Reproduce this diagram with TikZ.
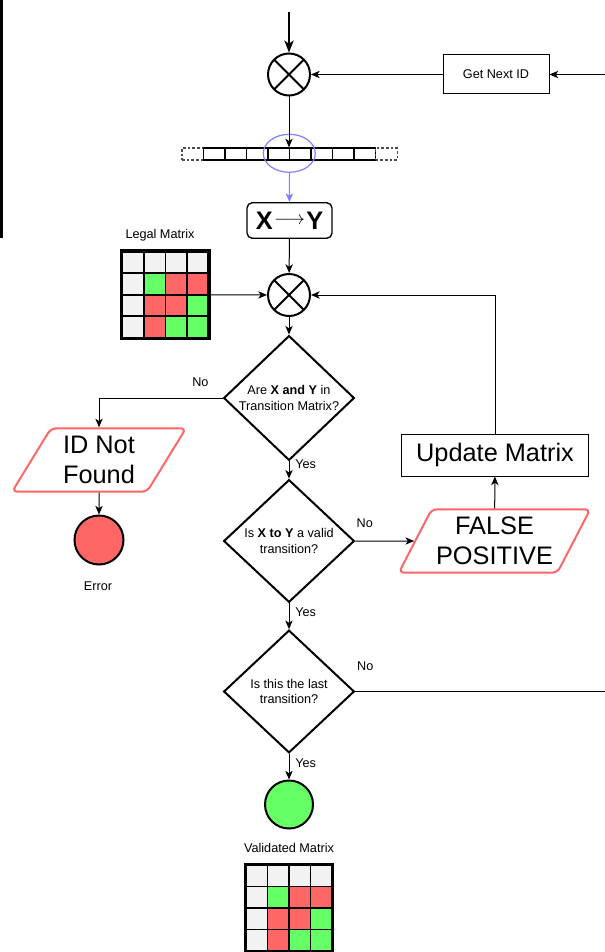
\documentclass[tikz,border=0pt]{standalone}
\usepackage{fontspec}
\setmainfont{Liberation Sans}
\usetikzlibrary{shapes.geometric,arrows.meta,matrix,calc}
\definecolor{cellgrey}{HTML}{F2F2F2}
\definecolor{cellgreen}{HTML}{66FF66}
\definecolor{cellred}{HTML}{FF6666}
\definecolor{winblue}{HTML}{7F7FFF}

\begin{document}
\begin{tikzpicture}[x=0.75pt,y=-0.75pt]
       \tikzstyle{small} = [font=\fontsize{9.5}{11.5}\selectfont];
       \tikzstyle{big} = [font=\fontsize{19}{22.5}\selectfont];
       \tikzstyle{arr} = [line width=0.75pt, -{Stealth[length=6.5pt,width=5.5pt,inset=1.8pt]}];
       \tikzstyle{xor} = [circle, draw, line width=1.5pt, minimum size=31.5pt, inner sep=0pt,
         path picture={\draw[line width=1.5pt]
           (path picture bounding box.north east) -- (path picture bounding box.south west)
           (path picture bounding box.north west) -- (path picture bounding box.south east);}];
       \tikzstyle{proc} = [rectangle, draw, line width=0.75pt];
       \tikzstyle{decision} = [diamond, draw, line width=1.5pt, minimum width=98pt, minimum height=92pt,
         inner sep=0pt, align=center, small];
       \tikzstyle{io} = [trapezium, trapezium left angle=60, trapezium right angle=120,
         trapezium stretches=true, draw=cellred, line width=1.5pt, rounded corners=4pt,
         align=center, big, minimum height=47.5pt, minimum width=130.5pt];
       \tikzstyle{stop} = [circle, draw, line width=1.5pt, inner sep=0pt];
       \tikzstyle{cell} = [rectangle, draw, line width=1.2pt, minimum size=16.1pt, inner sep=0pt];
       \tikzstyle{gy} = [cell, fill=cellgrey];
       \tikzstyle{gn} = [cell, fill=cellgreen];
       \tikzstyle{rd} = [cell, fill=cellred];
       \tikzstyle{grid} = [matrix of nodes, nodes in empty cells, column sep=-1.2pt, row sep=-1.2pt, inner sep=0pt];
       \tikzstyle{tapecell} = [rectangle, draw, line width=1pt, minimum width=16.15pt, minimum height=9pt, inner sep=0pt];
       \tikzstyle{tapeend} = [tapecell, dash pattern=on 2pt off 1.5pt, draw=black!70];

       \useasboundingbox (0,0) rectangle (605,952);
       \fill (0,0) rectangle (3,238);

       \coordinate (start) at (289,12);
       \coordinate (loopin) at (605,74.5);
       \node[xor] (xor1) at (289,74.5) {};
       \node[proc, small, minimum width=79.5pt, minimum height=29.25pt] (get) at (496,74.5) {Get Next ID};

       \matrix (tape) [grid, column sep=-1pt, ampersand replacement=\&] at (289.5,154)
       {
         |[tapeend]| \& |[tapecell]| \& |[tapecell]| \& |[tapecell]| \& |[tapecell]| \&
         |[tapecell]| \& |[tapecell]| \& |[tapecell]| \& |[tapecell]| \& |[tapeend]| \\
       };
       \node[ellipse, draw=winblue, line width=0.9pt, minimum width=39pt, minimum height=28.5pt,
         inner sep=0pt] (win) at (289.3,153.3) {};

       \node[proc, rounded corners=4pt, line width=1pt, minimum width=63.75pt, minimum height=26.7pt,
         inner sep=0pt, font=\fontsize{19}{22}\selectfont\bfseries] (xy) at (289.5,220.5)
         {X\kern1pt\raisebox{3.2pt}{\fontsize{14}{14}\selectfont$\longrightarrow$}\kern1pt Y};

       \node[small] (legallbl) at (160,235) {Legal Matrix};
       \matrix (legal) [grid, ampersand replacement=\&] at (165.3,294.7)
       {
         |[gy]| \& |[gy]| \& |[gy]| \& |[gy]| \\
         |[gy]| \& |[gn]| \& |[rd]| \& |[rd]| \\
         |[gy]| \& |[rd]| \& |[rd]| \& |[gn]| \\
         |[gy]| \& |[rd]| \& |[gn]| \& |[gn]| \\
       };
       \draw[line width=2pt] (legal.north west) rectangle (legal.south east);

       \node[xor] (xor2) at (289,295) {};

       \node[decision] (d1) at (289,398) {Are \textbf{X and Y} in\\Transition Matrix?};
       \node[io] (nf) at (99,460) {ID Not\\Found};
       \node[stop, fill=cellred, minimum size=36.75pt] (err) at (99,540) {};
       \node[small] (errlbl) at (98,586) {Error};

       \node[decision] (d2) at (289,541) {Is \textbf{X to Y} a valid\\transition?};
       \node[io] (fp) at (494.5,541) {FALSE\\POSITIVE};
       \node[proc, big, minimum width=140pt, minimum height=31.5pt] (upd) at (495,455) {Update Matrix};

       \node[decision] (d3) at (289,691.5) {Is this the last\\transition?};
       \coordinate (loopout) at (605,691.5);
       \node[stop, fill=cellgreen, minimum size=36pt] (ok) at (289,804.5) {};

       \node[small] (validlbl) at (289,848) {Validated Matrix};
       \matrix (valid) [grid, ampersand replacement=\&] at (289,908)
       {
         |[gy]| \& |[gy]| \& |[gy]| \& |[gy]| \\
         |[gy]| \& |[gn]| \& |[rd]| \& |[rd]| \\
         |[gy]| \& |[rd]| \& |[rd]| \& |[gn]| \\
         |[gy]| \& |[rd]| \& |[gn]| \& |[gn]| \\
       };
       \draw[line width=2pt] (valid.north west) rectangle (valid.south east);

       \draw[line width=1.5pt, -{Stealth[length=9pt,width=7pt,inset=2.5pt]}] (start) -- (xor1);
       \draw[arr] (loopin) -- (get);
       \draw[arr] (get) -- (xor1);
       \draw[arr] (xor1) -- (xor1 |- tape-1-6.north);
       \draw[arr, draw=winblue, fill=winblue] (win) -- (xy);
       \draw[arr] (xy) -- (xor2);
       \draw[arr] (legal) -- (xor2);
       \draw[arr] (upd) |- (xor2);
       \draw[arr] (xor2) -- (d1);
       \draw[arr] (d1) -| node[pos=0.09, above=5pt, small] {No} (nf);
       \draw[arr] (nf) -- (err);
       \draw[arr] (d1) -- node[pos=0.18, right=1pt, small] {Yes} (d2);
       \draw[arr] (d2) -- node[pos=0.16, above=6.7pt, small] {No} (fp);
       \draw[arr] (fp) -- (upd);
       \draw[arr] (d2) -- node[pos=0.36, right=1pt, small] {Yes} (d3);
       \draw[line width=0.75pt] (d3) -- node[pos=0.04, above=11.7pt, small] {No} (loopout);
       \draw[arr] (d3) -- node[pos=0.37, right=1pt, small] {Yes} (ok);
\end{tikzpicture}
\end{document}
